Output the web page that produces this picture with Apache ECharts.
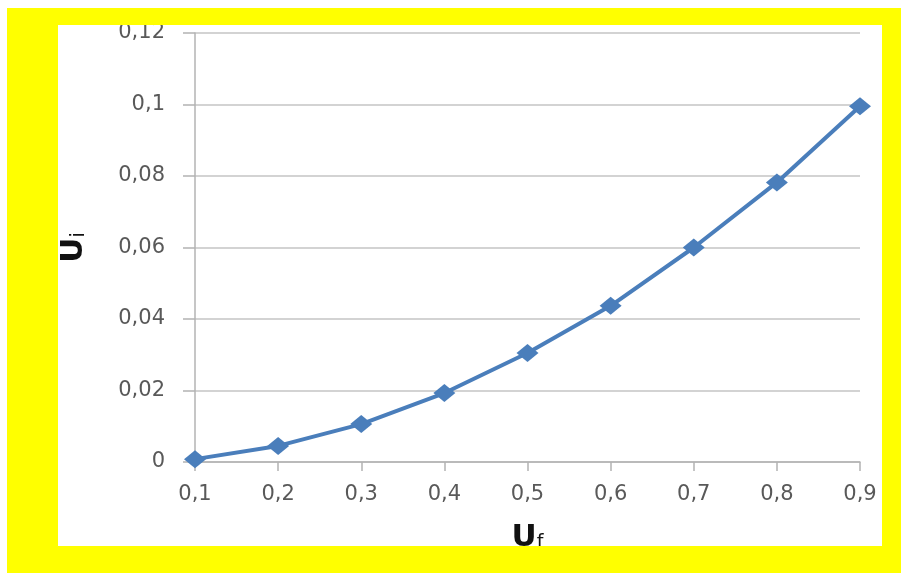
<!DOCTYPE html>
<html>
<head>
<meta charset="utf-8">
<script src="https://cdn.jsdelivr.net/npm/echarts@6/dist/echarts.min.js"></script>
<style>
  html, body { margin: 0; padding: 0; background: #ffffff; width: 901px; height: 573px; overflow: hidden; }
  #frame { position: absolute; left: 7px; top: 8px; width: 894px; height: 565px; background: #ffff00; }
  #chart { position: absolute; left: 51px; top: 17px; width: 824px; height: 521px; background: #ffffff; overflow: hidden; }
</style>
</head>
<body>
<div id="frame"><div id="chart"></div></div>
<script>
// Uf values on the horizontal axis
const categories = ['0,1', '0,2', '0,3', '0,4', '0,5', '0,6', '0,7', '0,8', '0,9'];
// Ui values measured for each Uf
const uiValues = [0.0008, 0.0045, 0.0106, 0.0193, 0.0305, 0.0437, 0.0600, 0.0782, 0.0995];
// vertical scale
const yMin = 0;
const yMax = 0.12;
const yStep = 0.02;

const fmtComma = v => String(+Number(v).toFixed(3)).replace('.', ',');

const chart = echarts.init(document.getElementById('chart'), null, { renderer: 'canvas' });
const labelColor = '#595959';
const axisGray = '#b3b3b3';

const nameRich = {
  u: { fontFamily: 'DejaVu Sans', fontSize: 31, color: '#111111', fontWeight: 'bold', verticalAlign: 'bottom', lineHeight: 34 },
  s: { fontFamily: 'DejaVu Sans', fontSize: 19, color: '#111111', verticalAlign: 'bottom', lineHeight: 30 }
};

chart.setOption({
  backgroundColor: '#ffffff',
  animation: false,
  grid: { left: 137, top: 8, right: 22, bottom: 84, containLabel: false, outerBoundsMode: 'none' },
  xAxis: {
    type: 'category',
    data: categories,
    boundaryGap: false,
    name: '{u|U}{s|f}',
    nameLocation: 'middle',
    nameGap: 57,
    nameTextStyle: { rich: nameRich },
    axisLine: { lineStyle: { color: axisGray, width: 1.5 } },
    axisTick: { show: true, alignWithLabel: true, length: 9, lineStyle: { color: axisGray, width: 1.5 } },
    axisLabel: { color: labelColor, fontFamily: 'DejaVu Sans', fontSize: 21, margin: 22 },
    splitLine: { show: false }
  },
  yAxis: {
    type: 'value',
    min: yMin,
    max: yMax,
    interval: yStep,
    name: '{u|U}{s|i}',
    nameLocation: 'middle',
    nameGap: 106,
    nameRotate: 90,
    nameTextStyle: { rich: nameRich },
    axisLine: { show: true, lineStyle: { color: axisGray, width: 1.5 } },
    axisTick: { show: true, length: 12, lineStyle: { color: axisGray, width: 1.5 } },
    axisLabel: { color: labelColor, fontFamily: 'DejaVu Sans', fontSize: 21, margin: 30, formatter: fmtComma },
    splitLine: { show: true, lineStyle: { color: '#c4c4c4', width: 1.5 } }
  },
  series: [{
    type: 'line',
    data: uiValues,
    symbol: 'diamond',
    symbolSize: [22, 18],
    showSymbol: true,
    lineStyle: { color: '#4a7ebb', width: 4 },
    itemStyle: { color: '#4a7ebb' },
    z: 5
  }]
});
</script>
</body>
</html>
